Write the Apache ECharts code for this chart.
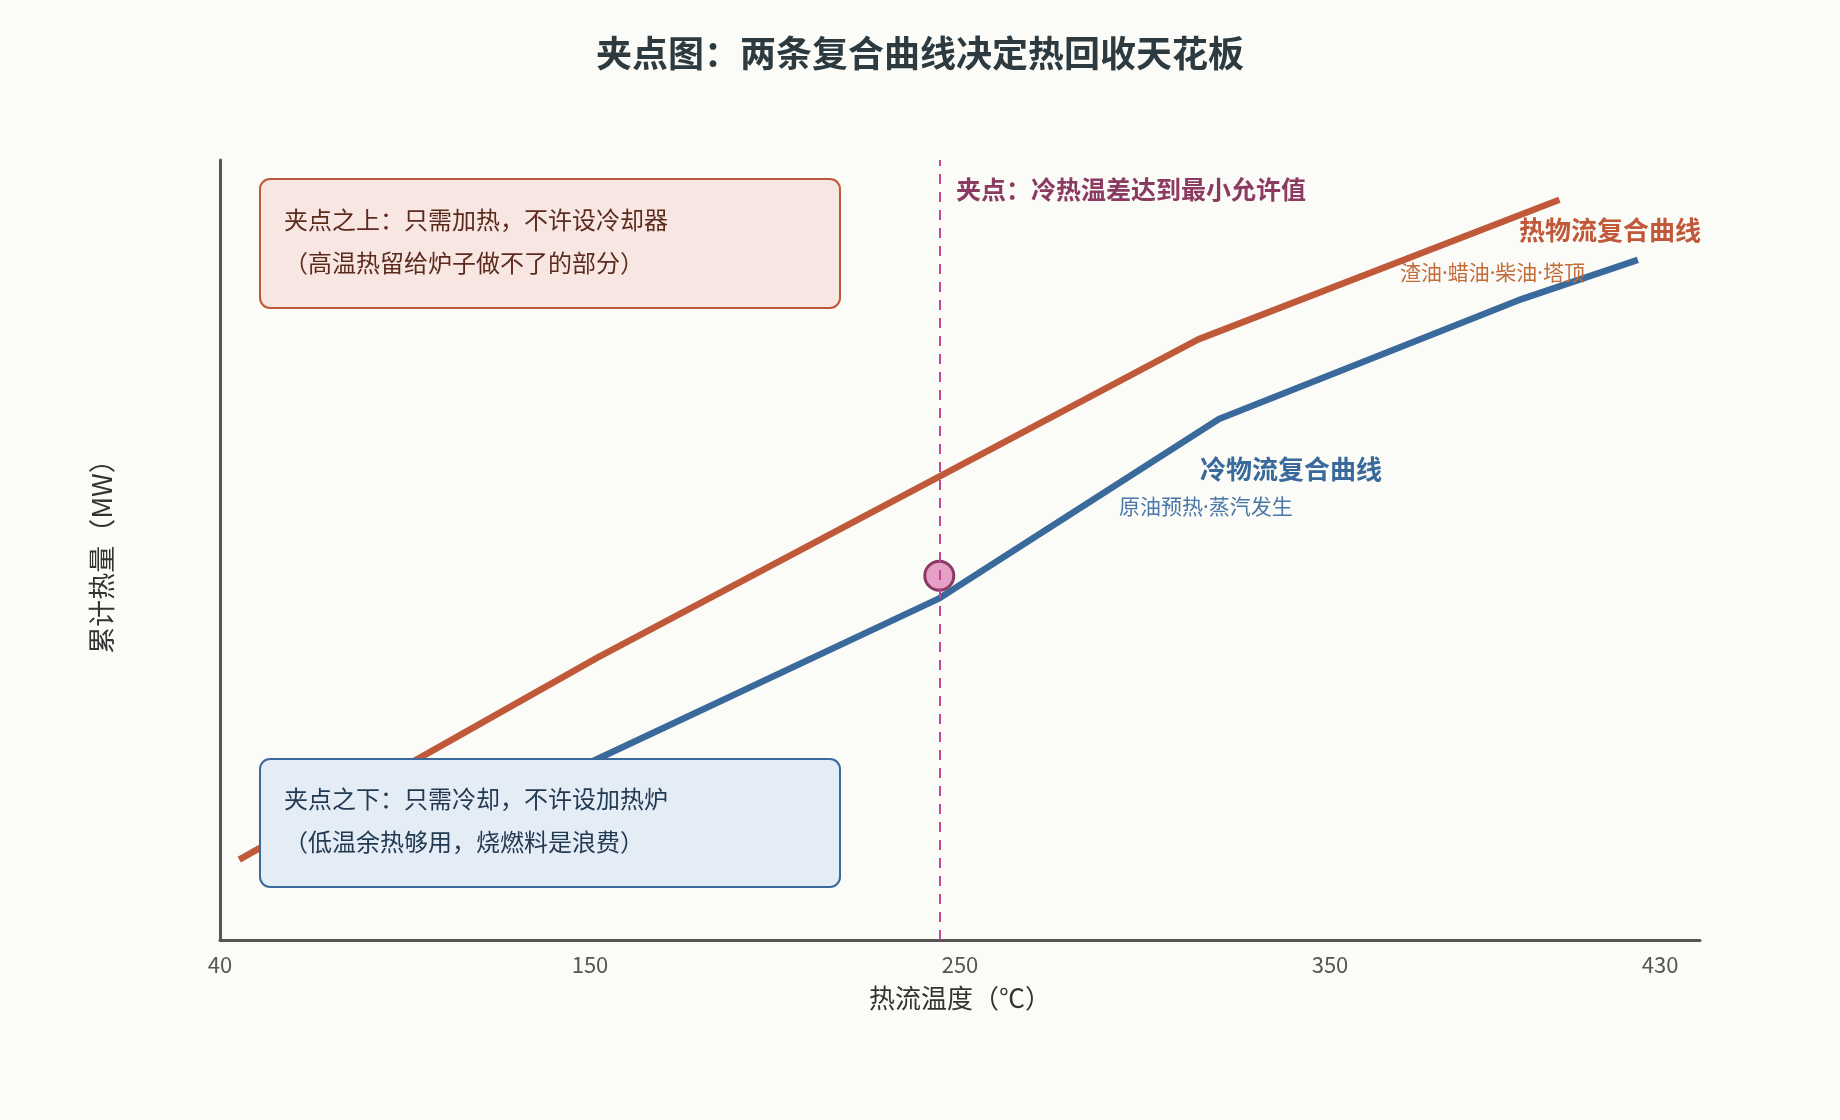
<!DOCTYPE html>
<html>
<head>
<meta charset="utf-8">
<title>夹点图</title>
<script src="https://cdn.jsdelivr.net/npm/echarts@6/dist/echarts.min.js"></script>
<style>
  html, body { margin: 0; padding: 0; background: #fbfbf7; }
  #chart { width: 1840px; height: 1120px; }
</style>
</head>
<body>
<div id="chart"></div>
<script>
// x is a 0-100 position scale; tick labels are the stream temperatures
var xTickPos = [0, 25, 50, 75, 97.3];
var xTickLabels = ['40', '150', '250', '350', '430'];

// hot composite curve (position, cumulative heat)
var hotX = [1.3, 25.5, 66.1, 90.5];
var hotY = [10.3, 36.2, 77.0, 94.9];

// cold composite curve
var coldX = [14, 25.5, 48.6, 67.5, 87.7, 95.8];
var coldY = [12.9, 23.2, 43.8, 66.8, 82.0, 87.2];

// pinch
var pinchX = 48.6;
var pinchY = 46.7;

var FONT = '"Noto Sans CJK SC", "Noto Sans", sans-serif';
var FONT_DOT = '"Noto Sans", "Noto Sans CJK SC", sans-serif'; // narrow middle dot
var HOT = '#c0593a';
var COLD = '#3a6a9c';

function zip(xs, ys) {
  return xs.map(function (x, i) { return [x, ys[i]]; });
}

var chart = echarts.init(document.getElementById('chart'));

var option = {
  backgroundColor: '#fbfbf7',
  animation: false,
  textStyle: { fontFamily: FONT },
  title: {
    text: '夹点图：两条复合曲线决定热回收天花板',
    left: 'center',
    top: 30,
    textStyle: { fontSize: 36, fontWeight: 'bold', color: '#2d3b40', fontFamily: FONT }
  },
  grid: { left: 220, right: 140, top: 160, bottom: 180 },
  xAxis: {
    type: 'value',
    min: 0,
    max: 100,
    name: '热流温度（℃）',
    nameLocation: 'middle',
    nameGap: 45,
    nameTextStyle: { fontSize: 26, color: '#333', fontFamily: FONT },
    axisLine: { show: true, lineStyle: { color: '#555', width: 3 } },
    axisTick: { show: false },
    splitLine: { show: false },
    axisLabel: {
      customValues: xTickPos,
      margin: 14,
      fontSize: 22,
      color: '#555',
      fontFamily: FONT,
      formatter: function (v) {
        var best = 0;
        for (var i = 1; i < xTickPos.length; i++) {
          if (Math.abs(xTickPos[i] - v) < Math.abs(xTickPos[best] - v)) best = i;
        }
        return xTickLabels[best];
      }
    }
  },
  yAxis: {
    type: 'value',
    min: 0,
    max: 100,
    name: '累计热量（MW）',
    nameLocation: 'middle',
    nameGap: 105,
    nameTextStyle: { fontSize: 27, color: '#333', fontFamily: FONT },
    axisLine: { show: true, lineStyle: { color: '#555', width: 3 } },
    axisTick: { show: false },
    axisLabel: { show: false },
    splitLine: { show: false }
  },
  series: [
    {
      name: '热物流复合曲线',
      type: 'line',
      data: zip(hotX, hotY),
      symbol: 'none',
      lineStyle: { color: HOT, width: 6.5 },
      z: 3
    },
    {
      name: '冷物流复合曲线',
      type: 'line',
      data: zip(coldX, coldY),
      symbol: 'none',
      lineStyle: { color: COLD, width: 6.5 },
      z: 3
    },
    {
      name: '夹点',
      type: 'scatter',
      data: [[pinchX, pinchY]],
      symbol: 'circle',
      symbolSize: 29,
      itemStyle: { color: '#e6a0c6', borderColor: '#8b3a62', borderWidth: 3, opacity: 1 },
      z: 4
    },
    {
      name: '夹点线',
      type: 'line',
      data: [],
      z: 5,
      markLine: {
        silent: true,
        symbol: 'none',
        label: { show: false },
        lineStyle: { color: '#c0479a', width: 2, type: [10, 8] },
        data: [{ xAxis: pinchX }]
      }
    }
  ],
  graphic: [
    {
      type: 'rect', z: 10,
      shape: { x: 260, y: 179, width: 580, height: 129, r: 10 },
      style: { fill: '#f7e6e2', stroke: HOT, lineWidth: 2 }
    },
    {
      type: 'text', z: 11, left: 284, top: 208,
      style: { text: '夹点之上：只需加热，不许设冷却器', fontSize: 24, fill: '#5c2b1d', fontFamily: FONT }
    },
    {
      type: 'text', z: 11, left: 284, top: 251,
      style: { text: '（高温热留给炉子做不了的部分）', fontSize: 24, fill: '#5c2b1d', fontFamily: FONT }
    },
    {
      type: 'rect', z: 10,
      shape: { x: 260, y: 759, width: 580, height: 128, r: 10 },
      style: { fill: '#e4ecf5', stroke: COLD, lineWidth: 2 }
    },
    {
      type: 'text', z: 11, left: 284, top: 787,
      style: { text: '夹点之下：只需冷却，不许设加热炉', fontSize: 24, fill: '#223a52', fontFamily: FONT }
    },
    {
      type: 'text', z: 11, left: 284, top: 830,
      style: { text: '（低温余热够用，烧燃料是浪费）', fontSize: 24, fill: '#223a52', fontFamily: FONT }
    },
    {
      type: 'text', z: 11, left: 956, top: 177,
      style: { text: '夹点：冷热温差达到最小允许值', fontSize: 25, fontWeight: 'bold', fill: '#8b3a62', fontFamily: FONT }
    },
    {
      type: 'text', z: 11, right: 139, top: 217,
      style: { text: '热物流复合曲线', fontSize: 26, fontWeight: 'bold', fill: HOT, fontFamily: FONT }
    },
    {
      type: 'text', z: 11, left: 1400, top: 264,
      style: { text: '渣油·蜡油·柴油·塔顶', fontSize: 21, fill: '#c46b3a', fontFamily: FONT_DOT }
    },
    {
      type: 'text', z: 11, left: 1200, top: 456,
      style: { text: '冷物流复合曲线', fontSize: 26, fontWeight: 'bold', fill: COLD, fontFamily: FONT }
    },
    {
      type: 'text', z: 11, left: 1119, top: 498,
      style: { text: '原油预热·蒸汽发生', fontSize: 21, fill: '#4a78a8', fontFamily: FONT_DOT }
    }
  ]
};

chart.setOption(option);
</script>
</body>
</html>
